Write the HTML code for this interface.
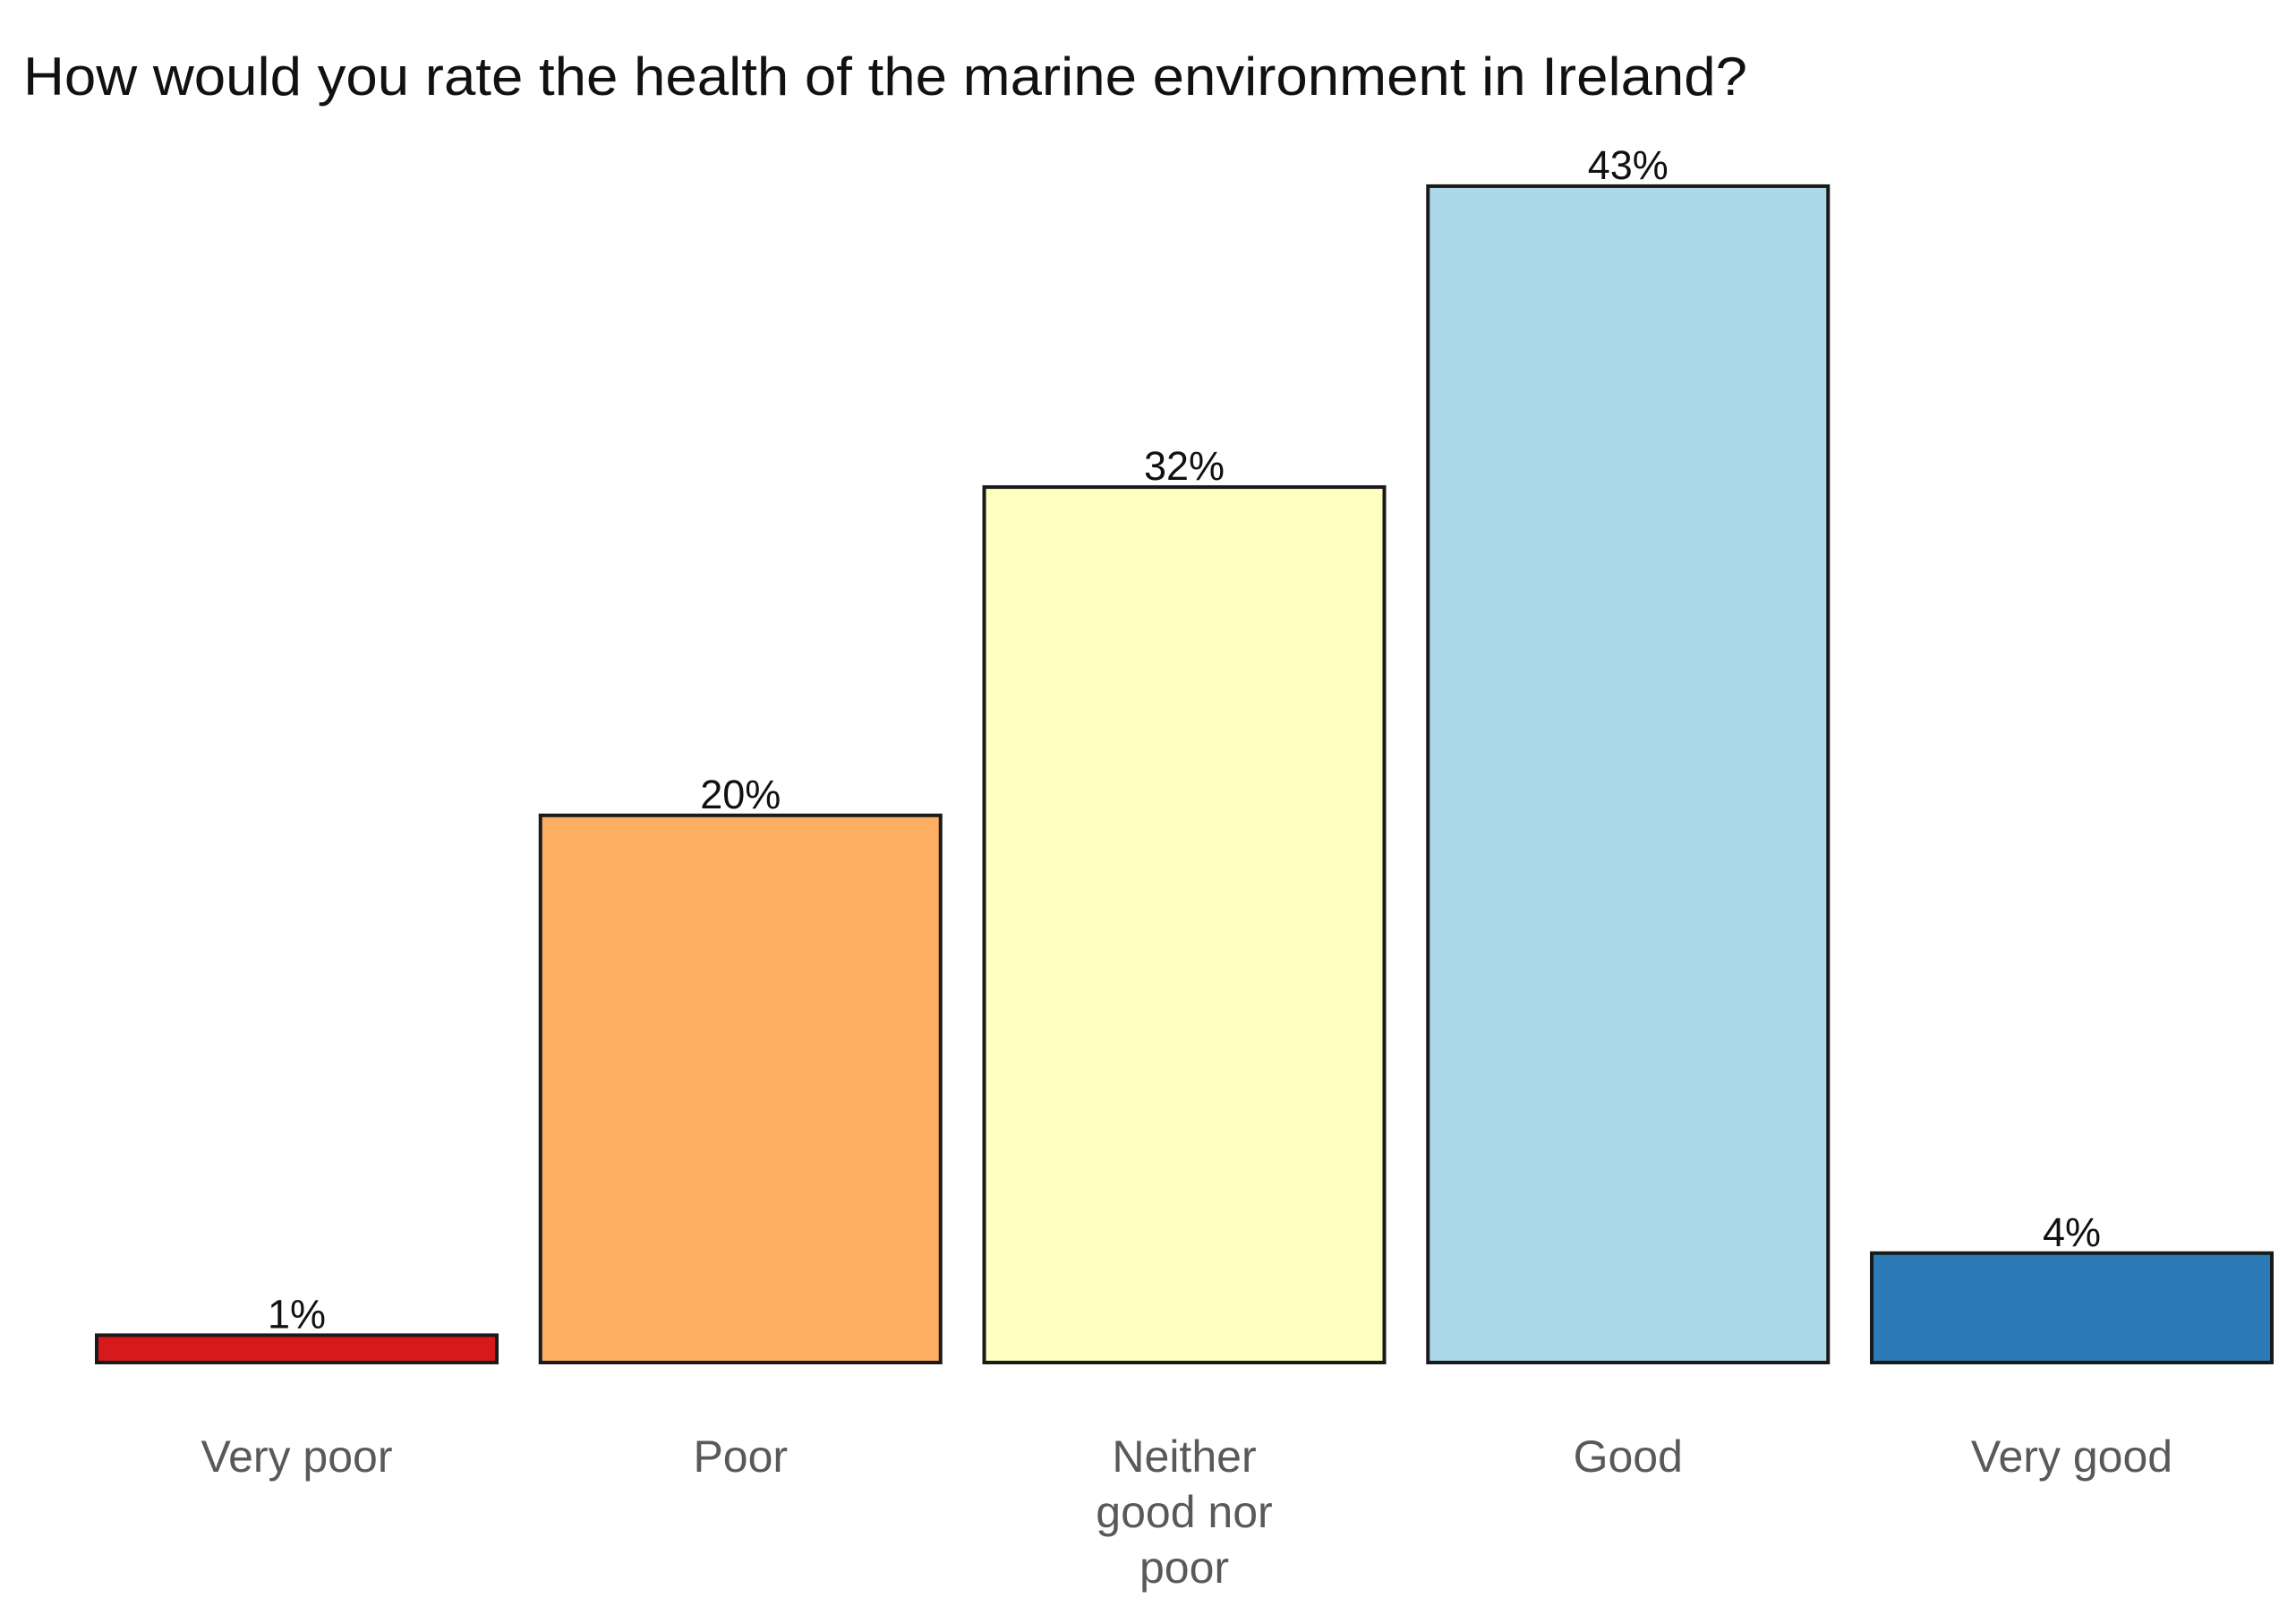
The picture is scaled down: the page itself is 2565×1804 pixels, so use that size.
<!DOCTYPE html>
<html><head><meta charset="utf-8"><style>
html,body{margin:0;padding:0;background:#fff;}
svg{display:block;}
</style></head><body>
<svg id="chart" width="2565" height="1804" viewBox="0 0 2565 1804" xmlns="http://www.w3.org/2000/svg">
<rect width="2565" height="1804" fill="#fff"/>
<text x="26" y="106" font-family="Liberation Sans, sans-serif" font-size="60" fill="#111" textLength="1926" lengthAdjust="spacingAndGlyphs">How would you rate the health of the marine environment in Ireland?</text>
<g id="bars"></g>
</svg>
<script>
const categories = [["Very poor"],["Poor"],["Neither","good nor","poor"],["Good"],["Very good"]];
const values = [1,20,32,43,4];
const valueLabels = ["1%","20%","32%","43%","4%"];
const colors = ["#d7191c","#fdae61","#ffffbf","#abd9e9","#2c7bb6"];

const NS="http://www.w3.org/2000/svg";
const left=108, step=495.75, barW=447, baseY=1522, pxPerUnit=30.56;
function xPos(i){return left+i*step;}
function yPos(v){return baseY-v*pxPerUnit;}
const g=document.getElementById('bars');
values.forEach((v,i)=>{
  const x=xPos(i), y=yPos(v);
  const r=document.createElementNS(NS,'rect');
  r.setAttribute('x',x);r.setAttribute('y',y);r.setAttribute('width',barW);r.setAttribute('height',baseY-y);
  r.setAttribute('fill',colors[i]);r.setAttribute('stroke','#1a1a1a');r.setAttribute('stroke-width','4');
  
  
  g.appendChild(r);
  const t=document.createElementNS(NS,'text');
  t.setAttribute('x',x+barW/2);t.setAttribute('y',y-8);t.setAttribute('text-anchor','middle');
  t.setAttribute('font-family','Liberation Sans, sans-serif');t.setAttribute('font-size','45');t.setAttribute('fill','#111');
  t.textContent=valueLabels[i];
  
  
  g.appendChild(t);
  categories[i].forEach((line,j)=>{
    const c=document.createElementNS(NS,'text');
    c.setAttribute('x',x+barW/2);c.setAttribute('y',1644+j*62);c.setAttribute('text-anchor','middle');
    c.setAttribute('font-family','Liberation Sans, sans-serif');c.setAttribute('font-size','50');c.setAttribute('fill','#595959');
    c.textContent=line;
    
    
    g.appendChild(c);
  });
});
</script>
</body></html>
